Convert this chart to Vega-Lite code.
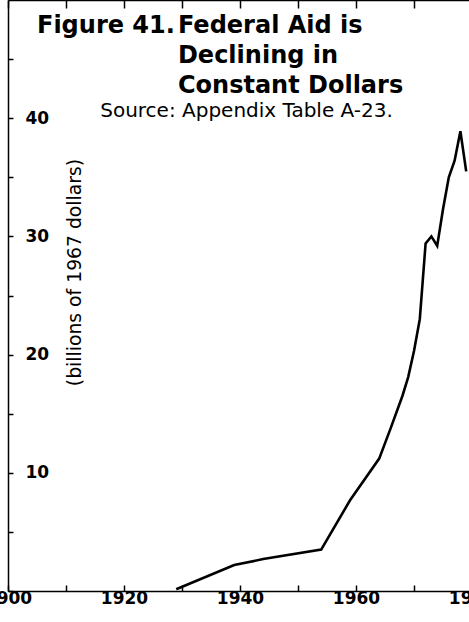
{
  "$schema": "https://vega.github.io/schema/vega-lite/v6.json",
  "autosize": "none",
  "width": 464,
  "height": 591,
  "padding": {"left": 8, "top": 0, "right": -3, "bottom": 31},
  "background": "white",
  "config": {"view": {"stroke": null}, "font": "DejaVu Sans"},
  "layer": [
    {
      "data": {"values": [
        {"year": 1929, "aid": 0.15},
        {"year": 1939, "aid": 2.2},
        {"year": 1944, "aid": 2.7},
        {"year": 1954, "aid": 3.5},
        {"year": 1959, "aid": 7.7},
        {"year": 1964, "aid": 11.2},
        {"year": 1966, "aid": 13.8},
        {"year": 1968, "aid": 16.5},
        {"year": 1969, "aid": 18.1},
        {"year": 1970, "aid": 20.3},
        {"year": 1971, "aid": 23.0},
        {"year": 1972, "aid": 29.4},
        {"year": 1973, "aid": 30.0},
        {"year": 1974, "aid": 29.2},
        {"year": 1975, "aid": 32.3},
        {"year": 1976, "aid": 35.0},
        {"year": 1977, "aid": 36.4},
        {"year": 1978, "aid": 38.9},
        {"year": 1979, "aid": 35.5}
      ]},
      "mark": {"type": "line", "color": "black", "strokeWidth": 2.6, "clip": true},
      "encoding": {
        "x": {
          "field": "year", "type": "quantitative",
          "scale": {"domain": [1900, 1980], "nice": false, "zero": false},
          "axis": {
            "orient": "bottom", "title": null, "grid": false,
            "values": [1900, 1910, 1920, 1930, 1940, 1950, 1960, 1970, 1980],
            "labelExpr": "datum.value % 20 === 0 ? datum.label : ''",
            "format": "d",
            "tickSize": -6, "tickWidth": 1.5, "tickColor": "black",
            "domainColor": "black", "domainWidth": 1.5,
            "labelPadding": 5, "labelFont": "DejaVu Sans", "labelFontWeight": "bold",
            "labelFontSize": 17, "labelColor": "black",
            "labelOverlap": false, "labelFlush": false, "labelBound": false
          }
        },
        "y": {
          "field": "aid", "type": "quantitative",
          "scale": {"domain": [0, 50], "nice": false},
          "axis": {
            "orient": "left", "grid": false,
            "values": [0, 5, 10, 15, 20, 25, 30, 35, 40, 45],
            "labelExpr": "datum.value % 10 === 0 && datum.value > 0 ? datum.label : ''",
            "tickSize": -5, "tickWidth": 1.5, "tickColor": "black",
            "domainColor": "black", "domainWidth": 1.5,
            "labelPadding": -12, "labelAlign": "left", "labelBaseline": "middle",
            "labelFont": "DejaVu Sans", "labelFontWeight": "bold",
            "labelFontSize": 17, "labelColor": "black",
            "labelOverlap": false, "labelFlush": false, "labelBound": false,
            "title": "(billions of 1967 dollars)",
            "titleFont": "DejaVu Sans", "titleFontWeight": "normal", "titleFontSize": 18.8,
            "titleColor": "black", "titleAngle": -90, "titleAlign": "center",
            "titleBaseline": "middle", "titleX": 66, "titleY": 272
          }
        }
      }
    },
    {
      "data": {"values": [{"label": "Figure 41."}]},
      "mark": {"type": "text", "align": "left", "baseline": "alphabetic",
               "font": "DejaVu Sans", "fontWeight": "bold", "fontSize": 24, "color": "black"},
      "encoding": {
        "text": {"field": "label"},
        "x": {"datum": 1905, "type": "quantitative",
              "axis": {"orient": "top", "title": null, "grid": false, "labels": false,
                       "values": [1900, 1910, 1920, 1930, 1940, 1950, 1960, 1970, 1980],
                       "tickSize": -8, "tickWidth": 1.5, "tickColor": "black",
                       "domainColor": "black", "domainWidth": 1.5}},
        "y": {"datum": 47.2, "type": "quantitative"}
      }
    },
    {
      "data": {"values": [{"label": "Federal Aid is\nDeclining in\nConstant Dollars"}]},
      "mark": {"type": "text", "lineBreak": "\n",
               "lineHeight": 30, "align": "left", "baseline": "alphabetic",
               "font": "DejaVu Sans", "fontWeight": "bold", "fontSize": 24, "color": "black"},
      "encoding": {
        "text": {"field": "label"},
        "x": {"datum": 1929.3, "type": "quantitative", "axis": null},
        "y": {"datum": 47.2, "type": "quantitative"}
      }
    },
    {
      "data": {"values": [{"label": "Source: Appendix Table A-23."}]},
      "mark": {"type": "text", "align": "left", "baseline": "alphabetic",
               "font": "DejaVu Sans", "fontWeight": "normal", "fontSize": 20, "color": "black"},
      "encoding": {
        "text": {"field": "label"},
        "x": {"datum": 1915.9, "type": "quantitative", "axis": null},
        "y": {"datum": 40.1, "type": "quantitative"}
      }
    }
  ],
  "resolve": {"axis": {"x": "independent"}}
}
